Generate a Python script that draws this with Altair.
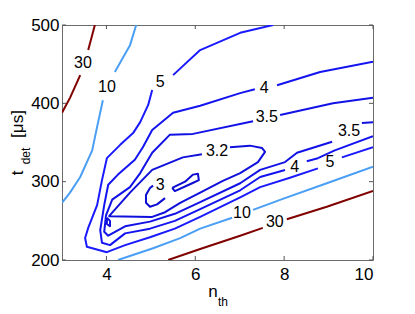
import altair as alt
import pandas as pd

# ---- contour segments: n_th (x) and t_det in us (y) ----
c30_a_x = [3.00, 3.18, 3.41]
c30_a_y = [388, 407, 436]
c30_b_x = [3.59, 3.74]
c30_b_y = [468, 500]
c30_c_x = [5.39, 6.11, 7.01, 7.52]
c30_c_y = [200, 214, 231, 241]
c30_d_x = [8.06, 8.96, 10.0]
c30_d_y = [252, 268, 288]

c10_a_x = [3.00, 3.18, 3.41, 3.68, 3.79, 3.92]
c10_a_y = [273, 286, 306, 340, 370, 404]
c10_b_x = [4.19, 4.53, 4.67]
c10_b_y = [440, 474, 500]
c10_c_x = [4.26, 5.05, 5.66, 6.11, 6.83]
c10_c_y = [200, 215, 228, 240, 254]
c10_d_x = [7.30, 7.97, 8.96, 10.0]
c10_d_y = [264, 278, 298, 319]

c5_a_x = [7.75, 7.01, 6.11, 5.50]
c5_a_y = [500, 490, 468, 436]
c5_b_x = [5.03, 4.94, 4.76, 4.60, 4.31, 4.01, 3.90, 3.79, 3.59, 3.52, 3.56, 4.01,
          4.42, 4.98, 5.54, 6.11, 7.01, 7.46, 8.13, 8.76]
c5_b_y = [417, 398, 376, 362, 347, 330, 302, 270, 241, 228, 217, 210,
          219, 229, 240, 255, 280, 293, 305, 317]
c5_c_x = [9.30, 10.0]
c5_c_y = [331, 344]

c4_a_x = [10.0, 8.81, 7.84]
c4_a_y = [453, 440, 423]
c4_b_x = [7.34, 7.01, 6.11, 5.50, 5.03, 4.82, 4.64, 4.26, 4.04, 3.95, 3.86, 3.90,
          4.08, 4.42, 4.98, 5.54, 6.11, 7.01, 7.46, 8.02]
c4_b_y = [418, 413, 397, 388, 366, 344, 328, 309, 296, 270, 238, 222,
          219, 234, 240, 250, 265, 289, 306, 315]
c4_c_x = [8.51, 8.76, 9.14, 10.0]
c4_c_y = [326, 330, 340, 358]

c35_a_x = [10.0, 9.10, 7.91]
c35_a_y = [407, 400, 385]
c35_b_x = [7.30, 5.95, 5.43, 5.03, 4.76, 4.53, 4.13, 3.99, 3.95, 4.04, 4.42, 4.98,
           5.54, 6.11, 7.01, 7.46, 8.02, 8.29, 9.08]
c35_b_y = [377, 361, 360, 337, 311, 293, 277, 257, 236, 231, 243, 249,
           259, 274, 298, 315, 325, 337, 351]
c35_c_x = [9.75, 10.0]
c35_c_y = [375, 376]

c32_a_x = [6.78, 7.23, 7.50, 7.57, 7.41, 7.01, 6.62, 6.11, 5.66, 5.32, 5.03, 4.06,
           4.53, 5.03, 5.72, 6.15]
c32_a_y = [344, 346, 343, 338, 325, 311, 301, 286, 273, 261, 255, 256,
           286, 315, 331, 335]
c32_b_x = [4.01, 4.08, 4.08, 4.01, 4.01]
c32_b_y = [254, 250, 243, 246, 254]

c3_a_x = [5.05, 4.98, 4.89, 4.89, 4.98, 5.14, 5.32]
c3_a_y = [295, 292, 283, 273, 268, 271, 279]
c3_b_x = [5.48, 5.77, 5.95, 6.06, 6.08, 5.93, 5.54, 5.48]
c3_b_y = [292, 300, 309, 310, 302, 298, 288, 292]

# ---- inline contour labels ----
label_text = ["30", "10", "5", "4", "3.5", "3.2", "3", "3.5", "4", "5", "10", "30"]
label_x = [3.47, 4.01, 5.21, 7.55, 7.61, 6.49, 5.21, 9.46, 8.24, 9.03, 7.05, 7.79]
label_y = [451, 421, 427, 420, 383, 339, 296, 365, 319, 325, 260, 249]

x_ticks = [4, 6, 8, 10]
y_ticks = [200, 300, 400, 500]

level_names = ["3", "3.2", "3.5", "4", "5", "10", "30"]
level_colors = ["#0c0cd2", "#1010dc", "#1212e6", "#1414f0", "#1a1aff", "#4a9ff5", "#800000"]

segments = [
    ("30", "30a", c30_a_x, c30_a_y), ("30", "30b", c30_b_x, c30_b_y),
    ("30", "30c", c30_c_x, c30_c_y), ("30", "30d", c30_d_x, c30_d_y),
    ("10", "10a", c10_a_x, c10_a_y), ("10", "10b", c10_b_x, c10_b_y),
    ("10", "10c", c10_c_x, c10_c_y), ("10", "10d", c10_d_x, c10_d_y),
    ("5", "5a", c5_a_x, c5_a_y), ("5", "5b", c5_b_x, c5_b_y), ("5", "5c", c5_c_x, c5_c_y),
    ("4", "4a", c4_a_x, c4_a_y), ("4", "4b", c4_b_x, c4_b_y), ("4", "4c", c4_c_x, c4_c_y),
    ("3.5", "35a", c35_a_x, c35_a_y), ("3.5", "35b", c35_b_x, c35_b_y),
    ("3.5", "35c", c35_c_x, c35_c_y),
    ("3.2", "32a", c32_a_x, c32_a_y), ("3.2", "32b", c32_b_x, c32_b_y),
    ("3", "3a", c3_a_x, c3_a_y), ("3", "3b", c3_b_x, c3_b_y),
]
rows = []
for lev, seg, xs, ys in segments:
    for i, (a, b) in enumerate(zip(xs, ys)):
        rows.append({"x": a, "y": b, "level": lev, "seg": seg, "order": i})
df = pd.DataFrame(rows)
lab_df = pd.DataFrame({"x": label_x, "y": label_y, "t": label_text})

FONT = "Liberation Sans"
W, H = 311, 235

xscale = alt.Scale(domain=[3, 10], nice=False, zero=False)
yscale = alt.Scale(domain=[200, 500], nice=False, zero=False)

xaxis = alt.Axis(values=x_ticks, title=None, domain=False, ticks=False, tickSize=0,
                 grid=False, labelFontSize=17, labelFont=FONT, labelColor="black",
                 labelPadding=6)
yaxis = alt.Axis(values=y_ticks, title=None, domain=False, ticks=False, tickSize=0,
                 grid=False, labelFontSize=17, labelFont=FONT, labelColor="black",
                 labelPadding=3)

lines = alt.Chart(df).mark_line(strokeWidth=2, clip=True, strokeJoin="round").encode(
    x=alt.X("x:Q", scale=xscale, axis=xaxis),
    y=alt.Y("y:Q", scale=yscale, axis=yaxis),
    color=alt.Color("level:N", scale=alt.Scale(domain=level_names, range=level_colors),
                    legend=None),
    detail="seg:N",
    order="order:Q",
)

labels = alt.Chart(lab_df).mark_text(fontSize=16, font=FONT, color="black").encode(
    x=alt.X("x:Q", scale=xscale), y=alt.Y("y:Q", scale=yscale), text="t:N"
)

xt_df = pd.DataFrame({"v": x_ticks})
yt_df = pd.DataFrame({"v": y_ticks})
tick_col = "#555555"
xt_bot = alt.Chart(xt_df).mark_rule(color=tick_col).encode(
    x=alt.X("v:Q", scale=xscale), y=alt.value(H), y2=alt.value(H - 4))
xt_top = alt.Chart(xt_df).mark_rule(color=tick_col).encode(
    x=alt.X("v:Q", scale=xscale), y=alt.value(0), y2=alt.value(4))
yt_left = alt.Chart(yt_df).mark_rule(color=tick_col).encode(
    y=alt.Y("v:Q", scale=yscale), x=alt.value(0), x2=alt.value(4))
yt_right = alt.Chart(yt_df).mark_rule(color=tick_col).encode(
    y=alt.Y("v:Q", scale=yscale), x=alt.value(W), x2=alt.value(W - 4))

def txt(s, x, y, size, angle=0):
    return alt.Chart(pd.DataFrame({"t": [s]})).mark_text(
        fontSize=size, font=FONT, color="black", angle=angle,
        align="center", baseline="middle").encode(
        x=alt.value(x), y=alt.value(y), text="t:N")

titles = [
    txt("n", 151, 267, 17),
    txt("th", 161, 277, 12),
    txt("t", -44, 148, 17, 270),
    txt("det", -36, 131, 12, 270),
    txt("[μs]", -44, 99, 17, 270),
]

chart = alt.layer(lines, labels, xt_bot, xt_top, yt_left, yt_right, *titles).properties(
    width=W, height=H,
    padding={"left": 54, "top": 17, "right": 34, "bottom": 54},
    autosize="none",
).configure_view(stroke="#6b6b6b", strokeWidth=1)

chart.save("out.html", embed_options={"renderer": "svg", "actions": False})
